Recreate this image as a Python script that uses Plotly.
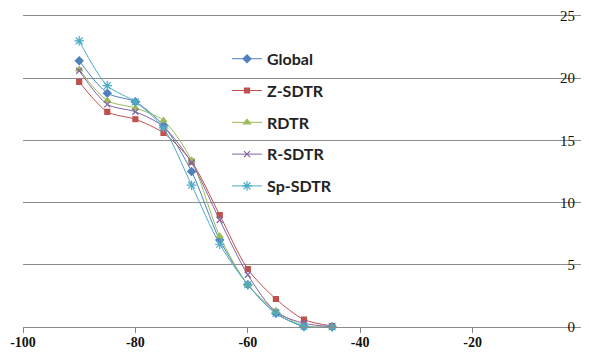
import plotly.graph_objects as go

x_vals = [-90, -85, -80, -75, -70, -65, -60, -55, -50, -45]
global_vals = [21.4, 18.8, 18.1, 16.2, 12.5, 7.0, 3.4, 1.1, 0.05, 0.02]
z_sdtr_vals = [19.7, 17.3, 16.7, 15.6, 13.3, 9.0, 4.65, 2.25, 0.6, 0.08]
rdtr_vals = [20.7, 18.2, 17.6, 16.6, 13.4, 7.3, 3.4, 1.3, 0.1, 0.02]
r_sdtr_vals = [20.6, 17.9, 17.3, 16.1, 13.2, 8.6, 4.2, 1.2, 0.3, 0.03]
sp_sdtr_vals = [23.0, 19.4, 18.1, 16.0, 11.4, 6.65, 3.4, 1.1, 0.05, 0.0]

series = [
    ("Global", global_vals, "#4F81BD", "diamond", 6),
    ("Z-SDTR", z_sdtr_vals, "#C0504D", "square", 5),
    ("RDTR", rdtr_vals, "#9BBB59", "triangle-up", 6),
    ("R-SDTR", r_sdtr_vals, "#8064A2", "x-thin-open", 6),
    ("Sp-SDTR", sp_sdtr_vals, "#4BACC6", "asterisk-open", 8),
]

x_tick_vals = [-100, -80, -60, -40, -20, 0]
y_tick_vals = [0, 5, 10, 15, 20, 25]

fig = go.Figure()
for name, vals, color, symbol, size in series:
    fig.add_trace(go.Scatter(
        x=x_vals, y=vals, name=name, mode="lines+markers",
        line=dict(color=color, width=1, shape="spline", smoothing=0.8),
        marker=dict(symbol=symbol, size=size, color=color,
                    line=dict(color=color, width=1.2)),
        legendgroup=name, cliponaxis=False,
    ))

fig.update_layout(
    width=581, height=353,
    margin=dict(l=15, r=0, t=7, b=34),
    paper_bgcolor="white", plot_bgcolor="white",
    showlegend=True,
    legend=dict(
        x=0.363, y=0.917, xanchor="left", yanchor="top",
        bgcolor="rgba(0,0,0,0)",
        font=dict(family="Lato", size=16, color="#222222", weight="bold"),
        tracegroupgap=8, itemwidth=30,
    ),
    xaxis=dict(
        range=[-100, 0], tickvals=x_tick_vals, ticktext=[str(v) for v in x_tick_vals],
        showgrid=False, zeroline=False,
        showline=True, mirror=True, linecolor="#8c8c8c", linewidth=1,
        ticks="outside", ticklen=5, tickcolor="#868686",
        ticklabelstandoff=-3, ticklabeloverflow="allow",
        tickfont=dict(family="Liberation Serif", size=14, color="#111111", weight="bold"),
    ),
    yaxis=dict(
        range=[0, 25], tickvals=y_tick_vals, side="right",
        ticklabelposition="inside", ticklabelstandoff=10, ticklabeloverflow="allow",
        showgrid=True, gridcolor="#8c8c8c", gridwidth=1,
        zeroline=False, showline=True, linecolor="#d0d0d0", linewidth=1,
        tickfont=dict(family="Liberation Serif", size=15, color="#111111"),
    ),
)

fig.write_html("out.html")
